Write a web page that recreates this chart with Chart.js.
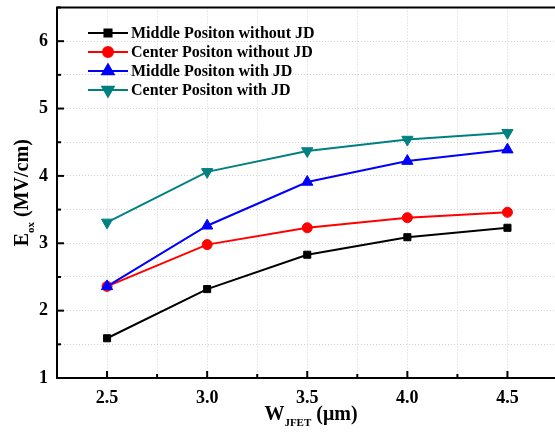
<!DOCTYPE html>
<html>
<head>
<meta charset="utf-8">
<script src="https://cdn.jsdelivr.net/npm/chart.js@4/dist/chart.umd.min.js"></script>
<style>
  html, body { margin: 0; padding: 0; background: #fff; }
  #wrap { width: 555px; height: 433px; overflow: hidden; position: relative; }
  #chart { display: block; }
</style>
</head>
<body>
<div id="wrap"><canvas id="chart" width="565" height="433"></canvas></div>
<script>
// W_JFET values (um)
var widths = [2.5, 3.0, 3.5, 4.0, 4.5];

// oxide field (MV/cm) for each case
var middleNoJD = [1.59, 2.32, 2.83, 3.09, 3.23];
var centerNoJD = [2.36, 2.98, 3.23, 3.38, 3.46];
var middleJD   = [2.36, 3.26, 3.91, 4.22, 4.39];
var centerJD   = [3.31, 4.06, 4.37, 4.54, 4.64];

var seriesNames = [
  'Middle Positon without JD',
  'Center Positon without JD',
  'Middle Positon with JD',
  'Center Positon with JD'
];
var seriesColors = ['#000000', '#ff0000', '#0000ff', '#008080'];
var seriesStyles = ['rect', 'circle', 'triangle', 'triangle'];
var seriesRot = [0, 0, 0, 180];
var seriesRadius = [5, 5, 6.5, 6.5];

var FONT = "'Liberation Serif', 'Times New Roman', serif";

function toPoints(vals) {
  return widths.map(function (x, i) { return { x: x, y: vals[i] }; });
}

var allSeries = [middleNoJD, centerNoJD, middleJD, centerJD];
var datasets = allSeries.map(function (vals, i) {
  return {
    label: seriesNames[i],
    data: toPoints(vals),
    borderColor: seriesColors[i],
    backgroundColor: seriesColors[i],
    borderWidth: 2,
    pointStyle: seriesStyles[i],
    rotation: seriesRot[i],
    pointRadius: seriesRadius[i],
    pointBorderWidth: 1,
    tension: 0,
    order: 3 - i
  };
});

function isMajor(v, step) {
  return Math.abs(v / step - Math.round(v / step)) < 1e-6;
}

// inward tick marks, top frame line, legend and axis titles
var decorations = {
  id: 'decorations',
  afterDatasetsDraw: function (chart) {
    var ctx = chart.ctx;
    var area = chart.chartArea;
    var xs = chart.scales.x, ys = chart.scales.y;
    ctx.save();
    ctx.strokeStyle = '#000';
    ctx.lineWidth = 2;
    ctx.beginPath();
    ctx.moveTo(area.left - 1, area.top);
    ctx.lineTo(area.right + 1, area.top);
    ctx.stroke();

    xs.ticks.forEach(function (t) {
      var px = xs.getPixelForValue(t.value);
      var len = isMajor(t.value, 0.5) ? 7 : 4;
      ctx.beginPath();
      ctx.moveTo(px, area.bottom);
      ctx.lineTo(px, area.bottom - len);
      ctx.stroke();
    });
    ys.ticks.forEach(function (t) {
      var py = ys.getPixelForValue(t.value);
      var len = isMajor(t.value, 1) ? 7 : 4;
      ctx.beginPath();
      ctx.moveTo(area.left, py);
      ctx.lineTo(area.left + len, py);
      ctx.stroke();
    });

    // legend
    chart.data.datasets.forEach(function (ds, i) {
      var y = 33 + i * 19;
      ctx.strokeStyle = ds.borderColor;
      ctx.lineWidth = 2;
      ctx.beginPath();
      ctx.moveTo(88, y);
      ctx.lineTo(128, y);
      ctx.stroke();
      ctx.fillStyle = ds.backgroundColor;
      Chart.helpers.drawPoint(ctx, {
        pointStyle: ds.pointStyle,
        rotation: ds.rotation,
        radius: ds.pointRadius,
        borderWidth: 1
      }, 108, y);
      ctx.fillStyle = '#000';
      ctx.font = 'bold 16px ' + FONT;
      ctx.textBaseline = 'middle';
      ctx.textAlign = 'left';
      ctx.fillText(ds.label, 131, y + 1);
    });

    // x axis title: W_JFET (um)
    ctx.fillStyle = '#000';
    ctx.textBaseline = 'alphabetic';
    var big = 'bold 20px ' + FONT, small = 'bold 11px ' + FONT;
    ctx.font = big; var w1 = ctx.measureText('W').width;
    var w3 = ctx.measureText(' (\u03bcm)').width;
    ctx.font = small; var w2 = ctx.measureText('JFET').width;
    var x0 = 311 - (w1 + w2 + w3) / 2;
    var by = 420;
    ctx.font = big; ctx.fillText('W', x0, by);
    ctx.font = small; ctx.fillText('JFET', x0 + w1, by + 6);
    ctx.font = big; ctx.fillText(' (\u03bcm)', x0 + w1 + w2, by);

    // y axis title: E_ox (MV/cm)
    ctx.save();
    ctx.translate(28, (area.top + area.bottom) / 2);
    ctx.rotate(-Math.PI / 2);
    ctx.font = big; var e1 = ctx.measureText('E').width;
    var e3 = ctx.measureText(' (MV/cm)').width;
    ctx.font = small; var e2 = ctx.measureText('ox').width;
    var s0 = -(e1 + e2 + e3) / 2;
    ctx.font = big; ctx.fillText('E', s0, 0);
    ctx.font = small; ctx.fillText('ox', s0 + e1, 6);
    ctx.font = big; ctx.fillText(' (MV/cm)', s0 + e1 + e2, 0);
    ctx.restore();

    ctx.restore();
  }
};

var config = {
  type: 'line',
  data: { datasets: datasets },
  options: {
    responsive: false,
    animation: false,
    layout: { padding: { left: 0, top: 6, right: 3, bottom: 0 } },
    plugins: {
      legend: { display: false },
      tooltip: { enabled: false }
    },
    scales: {
      x: {
        type: 'linear',
        min: 2.25,
        max: 4.75,
        afterFit: function (scale) {
          scale.height = 55;
          scale.paddingLeft = 0;
          scale.paddingRight = 0;
        },
        ticks: {
          stepSize: 0.25,
          autoSkip: false,
          maxRotation: 0,
          padding: 10,
          color: '#000',
          font: { family: FONT, size: 18, weight: 'bold' },
          callback: function (v) { return isMajor(v, 0.5) ? v.toFixed(1) : ''; }
        },
        grid: { color: '#d2d2d2', lineWidth: 1, drawTicks: false },
        border: { display: true, color: '#000', width: 2, dash: [1, 2] }
      },
      y: {
        type: 'linear',
        min: 1,
        max: 6.5,
        afterFit: function (scale) {
          scale.width = 57;
          scale.paddingTop = 0;
          scale.paddingBottom = 0;
        },
        ticks: {
          stepSize: 0.5,
          autoSkip: false,
          padding: 9,
          color: '#000',
          font: { family: FONT, size: 18, weight: 'bold' },
          callback: function (v) { return isMajor(v, 1) ? String(v) : ''; }
        },
        grid: { color: '#d2d2d2', lineWidth: 1, drawTicks: false },
        border: { display: true, color: '#000', width: 2, dash: [1, 2] }
      }
    }
  },
  plugins: [decorations]
};

window.onload = function () {
  var ctx = document.getElementById('chart').getContext('2d');
  window.myChart = new Chart(ctx, config);
};
</script>
</body>
</html>
